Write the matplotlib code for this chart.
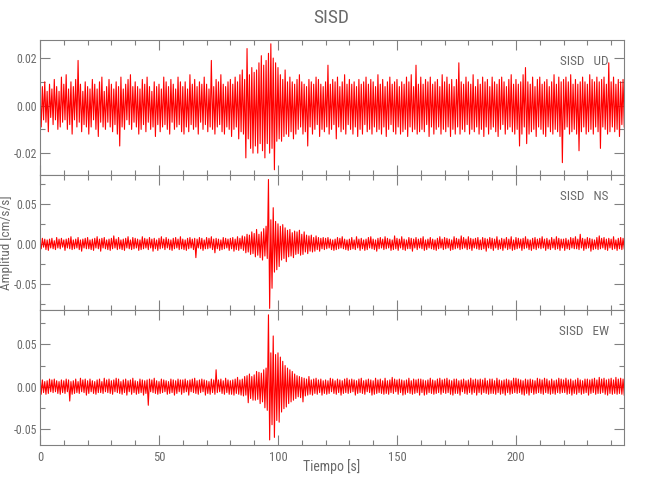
import matplotlib.pyplot as plt
from matplotlib.ticker import MultipleLocator, FormatStrFormatter
import numpy as np

# trace values in units of 0.001 cm/s/s, one value every 0.5 s (t = 0 .. 245.5 s)
ud = [5, -9, 8, -6, 10, -7, 6, -11, 9, -5,
      7, -8, 11, -6, 8, -10, 6, -9, 12, -7,
      9, -6, 13, -10, 7, -8, 10, -12, 8, -6,
      11, -9, 19, -7, 9, -11, 6, -8, 10, -9,
      8, -12, 7, -9, 11, -6, 9, -10, 7, -13,
      10, -7, 12, -9, 6, -10, 8, -7, 11, -9,
      9, -11, 7, -8, 10, -12, 8, -17, 12, -9,
      7, -10, 9, -6, 11, -8, 13, -10, 8, -7,
      10, -9, 8, -12, 7, -10, 11, -8, 9, -11,
      12, -7, 8, -10, 6, -9, 10, -13, 8, -8,
      9, -11, 7, -9, 12, -8, 10, -10, 8, -12,
      11, -7, 9, -10, 7, -9, 12, -8, 10, -11,
      8, -12, 10, -9, 7, -11, 13, -8, 9, -10,
      11, -9, 8, -12, 10, -7, 9, -10, 12, -8,
      9, -11, 7, -9, 19, -10, 8, -12, 11, -9,
      10, -8, 13, -11, 9, -12, 8, -9, 10, -10,
      11, -13, 9, -10, 12, -9, 10, -14, 13, -11,
      15, -12, 11, -22, 24, -14, 13, -18, 16, -20,
      14, -17, 15, -20, 18, -16, 21, -19, 17, -22,
      19, -16, 22, -20, 26, -18, 20, -27, 18, -15,
      16, -14, 13, -15, 11, -13, 15, -12, 10, -13,
      12, -11, 10, -14, 9, -12, 11, -10, 13, -9,
      10, -12, 9, -11, 8, -17, 11, -9, 10, -12,
      9, -10, 12, -8, 11, -13, 9, -10, 8, -11,
      10, -9, 17, -12, 9, -10, 11, -8, 10, -14,
      12, -9, 8, -11, 10, -10, 13, -12, 9, -8,
      11, -10, 9, -12, 10, -9, 8, -13, 11, -10,
      9, -12, 10, -8, 12, -11, 9, -10, 11, -12,
      10, -9, 8, -11, 13, -10, 9, -12, 11, -9,
      8, -13, 10, -10, 12, -8, 9, -11, 10, -12,
      11, -9, 8, -12, 10, -11, 9, -10, 12, -13,
      10, -9, 13, -11, 8, -10, 17, -12, 9, -11,
      12, -10, 9, -11, 11, -8, 10, -13, 12, -9,
      9, -12, 10, -10, 11, -9, 8, -12, 13, -10,
      10, -11, 12, -9, 9, -13, 11, -10, 8, -12,
      11, -9, 18, -12, 10, -10, 9, -11, 12, -8,
      10, -12, 9, -10, 13, -11, 8, -9, 11, -12,
      9, -10, 12, -13, 10, -9, 11, -12, 8, -10,
      12, -9, 10, -11, 9, -13, 11, -10, 12, -8,
      10, -12, 8, -10, 11, -9, 13, -11, 9, -12,
      11, -10, 9, -17, 10, -12, 13, -9, 16, -16,
      10, -12, 9, -11, 12, -10, 8, -13, 11, -9,
      12, -10, 9, -12, 10, -13, 11, -9, 8, -11,
      10, -12, 13, -10, 9, -11, 12, -13, 10, -24,
      11, -10, 12, -9, 10, -12, 13, -11, 9, -10,
      11, -12, 9, -19, 10, -11, 12, -9, 10, -12,
      9, -11, 13, -10, 11, -12, 10, -9, 12, -11,
      10, -18, 11, -9, 12, -10, 9, -12, 18, -11,
      10, -9, 12, -11, 9, -10, 11, -13, 10, -8,
      11, -9]

ns = [5, -6, 7, -4, 6, -7, 5, -8, 6, -5,
      7, -6, 4, -7, 8, -5, 6, -6, 7, -4,
      5, -8, 6, -5, 7, -6, 9, -7, 5, -6,
      6, -5, 8, -7, 5, -9, 6, -5, 7, -6,
      8, -6, 5, -7, 6, -8, 7, -5, 9, -6,
      6, -9, 7, -5, 8, -6, 5, -7, 6, -8,
      7, -6, 10, -5, 6, -7, 8, -6, 5, -7,
      6, -8, 7, -5, 9, -6, 5, -7, 8, -6,
      7, -5, 6, -8, 5, -7, 9, -6, 7, -5,
      6, -7, 8, -5, 6, -9, 7, -6, 5, -8,
      7, -6, 9, -5, 6, -7, 8, -5, 6, -7,
      5, -8, 7, -6, 8, -5, 6, -7, 9, -6,
      6, -7, 5, -8, 7, -6, 8, -5, 6, -7,
      7, -17, 6, -5, 8, -6, 7, -8, 5, -6,
      8, -6, 7, -5, 9, -7, 6, -11, 7, -6,
      6, -8, 5, -7, 8, -6, 7, -5, 6, -8,
      7, -6, 8, -9, 6, -7, 9, -8, 7, -6,
      10, -8, 9, -11, 12, -10, 11, -13, 15, -12,
      13, -16, 18, -14, 12, -17, 15, -20, 19, -15,
      22, -18, 80, -80, 30, -55, 45, -35, 28, -32,
      25, -28, 22, -20, 24, -18, 20, -22, 17, -16,
      18, -15, 14, -17, 16, -13, 15, -12, 17, -14,
      12, -13, 15, -10, 11, -12, 10, -9, 11, -10,
      8, -9, 10, -7, 8, -9, 7, -6, 8, -7,
      7, -6, 8, -5, 6, -7, 5, -8, 6, -7,
      8, -6, 7, -5, 9, -6, 6, -7, 5, -8,
      6, -7, 8, -6, 5, -7, 9, -5, 6, -8,
      7, -6, 5, -8, 6, -7, 8, -5, 9, -6,
      6, -7, 5, -9, 7, -6, 8, -5, 6, -7,
      9, -6, 7, -5, 6, -8, 5, -7, 10, -6,
      7, -8, 6, -5, 9, -7, 6, -8, 5, -6,
      8, -6, 7, -9, 6, -5, 8, -7, 6, -5,
      7, -6, 9, -8, 5, -7, 6, -5, 8, -6,
      6, -7, 5, -8, 7, -6, 9, -5, 6, -7,
      8, -6, 7, -5, 6, -8, 5, -7, 9, -6,
      7, -5, 6, -7, 10, -6, 8, -5, 6, -7,
      9, -6, 7, -8, 6, -5, 7, -6, 8, -7,
      5, -7, 8, -6, 7, -9, 6, -5, 8, -6,
      7, -8, 6, -5, 9, -7, 5, -6, 7, -8,
      6, -5, 8, -7, 6, -6, 9, -8, 5, -7,
      8, -6, 7, -5, 6, -8, 7, -6, 9, -5,
      6, -7, 5, -8, 7, -6, 8, -7, 6, -5,
      7, -6, 9, -5, 6, -8, 7, -6, 5, -7,
      8, -5, 6, -7, 9, -6, 7, -8, 6, -5,
      6, -8, 7, -6, 5, -7, 8, -5, 7, -6,
      9, -6, 6, -7, 12, -5, 7, -8, 6, -6,
      8, -5, 7, -9, 6, -7, 5, -6, 8, -7,
      10, -6, 7, -5, 8, -7, 6, -8, 7, -5,
      6, -7, 9, -6, 5, -8, 7, -6, 8, -7,
      7, -6]

ew = [15, -9, 8, -7, 6, -9, 7, -8, 9, -6,
      8, -7, 9, -6, 7, -8, 6, -9, 8, -7,
      7, -8, 9, -6, 8, -17, 6, -9, 7, -8,
      9, -7, 6, -8, 10, -6, 8, -7, 9, -10,
      7, -8, 9, -6, 7, -8, 6, -9, 8, -7,
      9, -7, 6, -8, 10, -6, 8, -7, 9, -8,
      7, -9, 8, -6, 10, -7, 9, -8, 6, -9,
      8, -7, 9, -10, 7, -6, 8, -9, 10, -7,
      7, -9, 6, -8, 9, -7, 8, -10, 7, -8,
      8, -22, 9, -6, 8, -7, 10, -8, 7, -9,
      6, -8, 9, -7, 8, -6, 7, -9, 6, -8,
      9, -7, 8, -10, 7, -8, 9, -6, 8, -9,
      8, -7, 9, -6, 7, -10, 8, -6, 9, -7,
      10, -8, 7, -9, 8, -7, 9, -6, 8, -10,
      7, -8, 6, -9, 9, -7, 8, -9, 20, -7,
      8, -6, 9, -8, 7, -9, 10, -7, 8, -9,
      7, -9, 8, -10, 9, -8, 11, -9, 8, -10,
      9, -11, 12, -10, 13, -19, 15, -14, 12, -16,
      14, -16, 18, -15, 17, -20, 16, -18, 20, -25,
      22, -28, 85, -63, 40, -45, 60, -60, 38, -40,
      40, -42, 35, -30, 30, -26, 25, -24, 22, -20,
      20, -18, 18, -16, 15, -14, 13, -12, 12, -13,
      11, -18, 10, -11, 9, -10, 12, -9, 8, -10,
      9, -8, 10, -9, 8, -7, 9, -10, 7, -8,
      8, -9, 7, -8, 10, -6, 9, -8, 7, -9,
      9, -7, 8, -10, 7, -8, 9, -7, 10, -8,
      8, -7, 9, -6, 8, -10, 7, -8, 9, -7,
      10, -8, 7, -9, 8, -6, 9, -7, 8, -10,
      7, -9, 10, -8, 8, -7, 9, -8, 7, -9,
      10, -8, 7, -9, 8, -7, 11, -8, 9, -6,
      8, -9, 9, -7, 8, -10, 7, -9, 8, -7,
      10, -8, 7, -9, 9, -8, 8, -7, 9, -10,
      9, -7, 8, -10, 7, -9, 8, -7, 10, -8,
      8, -9, 7, -8, 9, -7, 10, -9, 8, -7,
      9, -8, 10, -7, 8, -9, 7, -10, 9, -8,
      9, -8, 7, -10, 8, -6, 9, -8, 7, -9,
      8, -7, 10, -9, 8, -7, 9, -10, 8, -7,
      9, -9, 8, -7, 10, -8, 7, -9, 9, -8,
      9, -8, 7, -9, 10, -7, 8, -9, 7, -8,
      8, -10, 9, -7, 8, -9, 7, -8, 10, -7,
      10, -8, 9, -7, 8, -9, 7, -10, 9, -8,
      8, -10, 9, -7, 8, -9, 7, -8, 10, -7,
      9, -8, 8, -9, 10, -7, 9, -8, 7, -9,
      9, -8, 7, -9, 8, -7, 10, -8, 9, -7,
      8, -7, 10, -9, 8, -8, 9, -10, 7, -8,
      8, -9, 10, -7, 8, -9, 7, -8, 9, -7,
      9, -10, 8, -8, 9, -7, 10, -9, 8, -8,
      11, -8, 9, -7, 10, -9, 8, -10, 9, -8,
      10, -9, 8, -8, 11, -9, 9, -8, 10, -9,
      9, -10]

station = 'SISD'
components = ['UD', 'NS', 'EW']
ylims = [(-0.0292, 0.0276), (-0.082, 0.0856), (-0.069, 0.0907)]
ymajor = [0.02, 0.05, 0.05]

gray = '#808080'
txt = '#6a6a6a'
plt.rcParams['font.family'] = 'sans-serif'
plt.rcParams['font.sans-serif'] = ['Roboto Condensed', 'Liberation Sans Narrow', 'Liberation Sans']

fig = plt.figure(figsize=(6.5, 5.0), dpi=100)
left, width, h = 40 / 650, 584 / 650, 0.27
bottoms = [0.65, 0.38, 0.11]

for i, data in enumerate([ud, ns, ew]):
    ax = fig.add_axes([left, bottoms[i], width, h])
    t = np.arange(len(data)) * 0.5
    ax.plot(t, np.array(data) * 0.001, color='red', lw=0.8)
    ax.set_xlim(0, 245.4)
    ax.set_ylim(*ylims[i])
    ax.xaxis.set_major_locator(MultipleLocator(50))
    ax.xaxis.set_minor_locator(MultipleLocator(10))
    ax.yaxis.set_major_locator(MultipleLocator(ymajor[i]))
    ax.yaxis.set_minor_locator(MultipleLocator(ymajor[i] / 2))
    ax.yaxis.set_major_formatter(FormatStrFormatter('%.2f'))
    ax.tick_params(which='both', direction='in', top=True, right=True,
                   color=gray, labelcolor=txt, labelsize=8.5, width=0.8, pad=2)
    ax.tick_params(which='major', length=7)
    ax.tick_params(which='minor', length=3.5)
    ax.tick_params(axis='x', pad=4, labelsize=9)
    for s in ax.spines.values():
        s.set_color(gray)
        s.set_linewidth(0.8)
    if i < 2:
        ax.tick_params(labelbottom=False)
    ax.text(0.974, 0.84, station + '   ' + components[i], transform=ax.transAxes,
            ha='right', va='center', fontsize=9.5, color=txt)

fig.text(0.51, 0.964, station, ha='center', va='center', fontsize=14, color=txt)
fig.text(0.51, 0.066, 'Tiempo [s]', ha='center', va='center', fontsize=10, color=txt)
fig.text(0.009, 0.515, 'Amplitud [cm/s/s]', ha='center', va='center', rotation=90,
         fontsize=9.5, color=txt)

fig.savefig('out.png', dpi=100)
